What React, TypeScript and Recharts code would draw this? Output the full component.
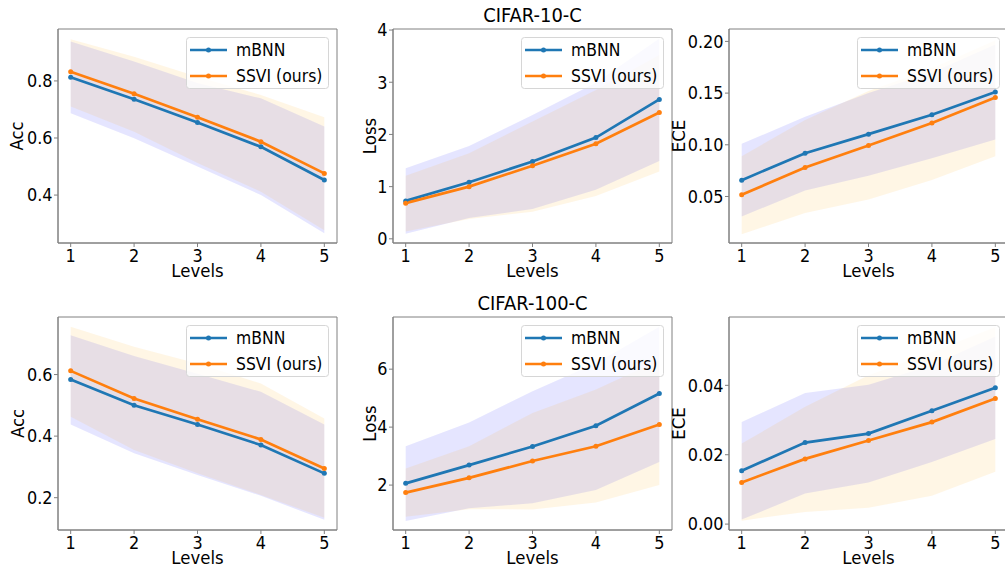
import React from "react";
import {
  ComposedChart,
  Line,
  Area,
  XAxis,
  YAxis,
  ReferenceArea,
} from "recharts";

const levels = [1, 2, 3, 4, 5];

// CIFAR-10-C
const c10AccMbnn = [0.813, 0.736, 0.654, 0.569, 0.453];
const c10AccSsvi = [0.832, 0.755, 0.673, 0.587, 0.476];
const c10AccMbnnLo = [0.687, 0.599, 0.5, 0.4, 0.266];
const c10AccMbnnHi = [0.938, 0.868, 0.793, 0.739, 0.64];
const c10AccSsviLo = [0.71, 0.622, 0.512, 0.412, 0.277];
const c10AccSsviHi = [0.946, 0.885, 0.815, 0.751, 0.673];

const c10LossMbnn = [0.727, 1.085, 1.48, 1.94, 2.67];
const c10LossSsvi = [0.683, 1.0, 1.4, 1.82, 2.42];
const c10LossMbnnLo = [0.096, 0.4, 0.57, 0.94, 1.49];
const c10LossMbnnHi = [1.35, 1.78, 2.37, 2.99, 3.84];
const c10LossSsviLo = [0.14, 0.38, 0.52, 0.82, 1.29];
const c10LossSsviHi = [1.21, 1.64, 2.25, 2.85, 3.52];

const c10EceMbnn = [0.0658, 0.0919, 0.1103, 0.129, 0.151];
const c10EceSsvi = [0.0516, 0.078, 0.0994, 0.121, 0.1458];
const c10EceMbnnLo = [0.0306, 0.0558, 0.07, 0.087, 0.105];
const c10EceMbnnHi = [0.101, 0.127, 0.15, 0.17, 0.197];
const c10EceSsviLo = [0.0135, 0.034, 0.047, 0.066, 0.089];
const c10EceSsviHi = [0.089, 0.124, 0.152, 0.174, 0.201];

// CIFAR-100-C
const c100AccMbnn = [0.584, 0.5, 0.438, 0.371, 0.279];
const c100AccSsvi = [0.612, 0.522, 0.455, 0.389, 0.295];
const c100AccMbnnLo = [0.438, 0.344, 0.274, 0.206, 0.128];
const c100AccMbnnHi = [0.728, 0.66, 0.603, 0.544, 0.438];
const c100AccSsviLo = [0.463, 0.355, 0.279, 0.209, 0.135];
const c100AccSsviHi = [0.755, 0.69, 0.636, 0.571, 0.457];

const c100LossMbnn = [2.06, 2.69, 3.33, 4.05, 5.16];
const c100LossSsvi = [1.74, 2.25, 2.83, 3.34, 4.09];
const c100LossMbnnLo = [0.76, 1.2, 1.37, 1.83, 2.8];
const c100LossMbnnHi = [3.34, 4.16, 5.24, 6.2, 7.46];
const c100LossSsviLo = [0.91, 1.17, 1.16, 1.4, 2.0];
const c100LossSsviHi = [2.57, 3.34, 4.49, 5.3, 6.31];

const c100EceMbnn = [0.0154, 0.0235, 0.0261, 0.0327, 0.0393];
const c100EceSsvi = [0.012, 0.0188, 0.0241, 0.0294, 0.0362];
const c100EceMbnnLo = [0.0013, 0.0088, 0.012, 0.0179, 0.0245];
const c100EceMbnnHi = [0.0294, 0.0378, 0.0402, 0.0458, 0.0541];
const c100EceSsviLo = [0.001, 0.0035, 0.0047, 0.0082, 0.0151];
const c100EceSsviHi = [0.0232, 0.0338, 0.0429, 0.0496, 0.0568];

const seriesNames = ["mBNN", "SSVI (ours)"];
const BLUE = "#1f77b4";
const ORANGE = "#ff7f0e";
const FONT = '"DejaVu Sans", sans-serif';
const SPINE = "#808080";
const SX = 0.92; // glyphs in the reference are a little narrow

const PLOT_W = 279;
const Y_AXIS_W = 50;
const M_LEFT = 20;

function buildRows(
  mb: number[], ss: number[],
  mbLo: number[], mbHi: number[],
  ssLo: number[], ssHi: number[]
) {
  return levels.map((level, i) => ({
    level,
    mbnn: mb[i],
    ssvi: ss[i],
    mBand: [mbLo[i], mbHi[i]],
    sBand: [ssLo[i], ssHi[i]],
  }));
}

function NText({ x, y, size, anchor = "start", dy = 0, rotate = 0, children }: any) {
  return (
    <text
      transform={`translate(${x},${y}) rotate(${rotate}) scale(${SX},1)`}
      textAnchor={anchor}
      dy={dy}
      fontFamily={FONT}
      fontSize={size}
      fill="#000"
    >
      {children}
    </text>
  );
}

interface PanelProps {
  left: number;
  top: number;
  plotH: number;
  axisH: number;
  title?: string;
  yLabel: string;
  labelDx: number;
  domain: [number, number];
  ticks: number[];
  digits: number;
  rows: any[];
}

function Panel({ left, top, plotH, axisH, title, yLabel, labelDx, domain, ticks, digits, rows }: PanelProps) {
  const width = M_LEFT + Y_AXIS_W + PLOT_W + 2;
  const height = 29 + plotH + axisH;
  const plotLeft = M_LEFT + Y_AXIS_W;
  const lgX = plotLeft + PLOT_W - 8 - 143;
  const lgY = 29 + 8;
  return (
    <div style={{ position: "absolute", left, top, width, height }}>
      <ComposedChart
        width={width}
        height={height}
        data={rows}
        margin={{ top: 29, right: 2, left: M_LEFT, bottom: 0 }}
      >
        <XAxis
          dataKey="level"
          type="number"
          domain={[0.8, 5.2]}
          ticks={levels}
          height={axisH}
          tickSize={4}
          tickMargin={1}
          stroke={SPINE}
          tickLine={{ stroke: SPINE }}
          tick={(p: any) => (
            <NText x={p.x} y={p.y} size={17.5} anchor="middle" dy="0.8em">
              {p.payload.value}
            </NText>
          )}
          label={{
            content: (p: any) => (
              <NText x={p.viewBox.x + p.viewBox.width / 2} y={p.viewBox.y + 34} size={18} anchor="middle">
                Levels
              </NText>
            ),
          }}
        />
        <YAxis
          type="number"
          domain={domain}
          ticks={ticks}
          width={Y_AXIS_W}
          tickSize={4}
          tickMargin={1.5}
          stroke={SPINE}
          tickLine={{ stroke: SPINE }}
          tick={(p: any) => (
            <NText x={p.x} y={p.y} size={17.5} anchor="end" dy="0.36em">
              {Number(p.payload.value).toFixed(digits)}
            </NText>
          )}
          label={{
            content: (p: any) => (
              <NText
                x={p.viewBox.x + p.viewBox.width + labelDx}
                y={p.viewBox.y + p.viewBox.height / 2}
                size={18}
                anchor="middle"
                dy="0.36em"
                rotate={-90}
              >
                {yLabel}
              </NText>
            ),
          }}
        />
        <Area
          dataKey="mBand"
          stroke="none"
          fill="blue"
          fillOpacity={0.1}
          isAnimationActive={false}
          activeDot={false}
        />
        <Area
          dataKey="sBand"
          stroke="none"
          fill="orange"
          fillOpacity={0.1}
          isAnimationActive={false}
          activeDot={false}
        />
        <Line
          dataKey="mbnn"
          stroke={BLUE}
          strokeWidth={2.7}
          dot={{ r: 2.5, fill: BLUE, stroke: "none" }}
          isAnimationActive={false}
        />
        <Line
          dataKey="ssvi"
          stroke={ORANGE}
          strokeWidth={2.7}
          dot={{ r: 2.5, fill: ORANGE, stroke: "none" }}
          isAnimationActive={false}
        />
        <ReferenceArea
          x1={0.8}
          x2={5.2}
          y1={domain[0]}
          y2={domain[1]}
          fill="none"
          stroke={SPINE}
          strokeWidth={1}
        />
      </ComposedChart>
      <svg
        width={width}
        height={height}
        style={{ position: "absolute", left: 0, top: 0, pointerEvents: "none" }}
      >
        {title && (
          <NText x={plotLeft + PLOT_W / 2} y={22} size={19.5} anchor="middle">
            {title}
          </NText>
        )}
        <rect
          x={lgX + 0.5}
          y={lgY + 0.5}
          width={142}
          height={51}
          rx={3}
          fill="#fff"
          fillOpacity={0.8}
          stroke="#d6d6d6"
        />
        {seriesNames.map((name, i) => {
          const cy = lgY + (i === 0 ? 13 : 39);
          const c = i === 0 ? BLUE : ORANGE;
          return (
            <g key={name}>
              <line x1={lgX + 4} y1={cy} x2={lgX + 41} y2={cy} stroke={c} strokeWidth={2.7} />
              <circle cx={lgX + 22.5} cy={cy} r={2.5} fill={c} />
              <NText x={lgX + 50} y={cy} size={17} dy="0.36em">
                {name}
              </NText>
            </g>
          );
        })}
      </svg>
    </div>
  );
}

export default function App() {
  return (
    <div style={{ position: "relative", width: 1005, height: 571, overflow: "hidden", background: "#fff" }}>
      <style>{`body{margin:0}`}</style>
      <Panel
        left={-12} top={0} plotH={214} axisH={45}
        yLabel="Acc" labelDx={-41}
        domain={[0.232, 0.982]} ticks={[0.4, 0.6, 0.8]} digits={1}
        rows={buildRows(c10AccMbnn, c10AccSsvi, c10AccMbnnLo, c10AccMbnnHi, c10AccSsviLo, c10AccSsviHi)}
      />
      <Panel
        left={323} top={0} plotH={214} axisH={45}
        title="CIFAR-10-C"
        yLabel="Loss" labelDx={-23}
        domain={[-0.08, 4.02]} ticks={[0, 1, 2, 3, 4]} digits={0}
        rows={buildRows(c10LossMbnn, c10LossSsvi, c10LossMbnnLo, c10LossMbnnHi, c10LossSsviLo, c10LossSsviHi)}
      />
      <Panel
        left={659} top={0} plotH={214} axisH={45}
        yLabel="ECE" labelDx={-50}
        domain={[0.005, 0.212]} ticks={[0.05, 0.1, 0.15, 0.2]} digits={2}
        rows={buildRows(c10EceMbnn, c10EceSsvi, c10EceMbnnLo, c10EceMbnnHi, c10EceSsviLo, c10EceSsviHi)}
      />
      <Panel
        left={-12} top={288} plotH={213} axisH={41}
        yLabel="Acc" labelDx={-40}
        domain={[0.095, 0.787]} ticks={[0.2, 0.4, 0.6]} digits={1}
        rows={buildRows(c100AccMbnn, c100AccSsvi, c100AccMbnnLo, c100AccMbnnHi, c100AccSsviLo, c100AccSsviHi)}
      />
      <Panel
        left={323} top={288} plotH={213} axisH={41}
        title="CIFAR-100-C"
        yLabel="Loss" labelDx={-23}
        domain={[0.45, 7.8]} ticks={[2, 4, 6]} digits={0}
        rows={buildRows(c100LossMbnn, c100LossSsvi, c100LossMbnnLo, c100LossMbnnHi, c100LossSsviLo, c100LossSsviHi)}
      />
      <Panel
        left={659} top={288} plotH={213} axisH={41}
        yLabel="ECE" labelDx={-50}
        domain={[-0.0017, 0.0597]} ticks={[0, 0.02, 0.04]} digits={2}
        rows={buildRows(c100EceMbnn, c100EceSsvi, c100EceMbnnLo, c100EceMbnnHi, c100EceSsviLo, c100EceSsviHi)}
      />
    </div>
  );
}
